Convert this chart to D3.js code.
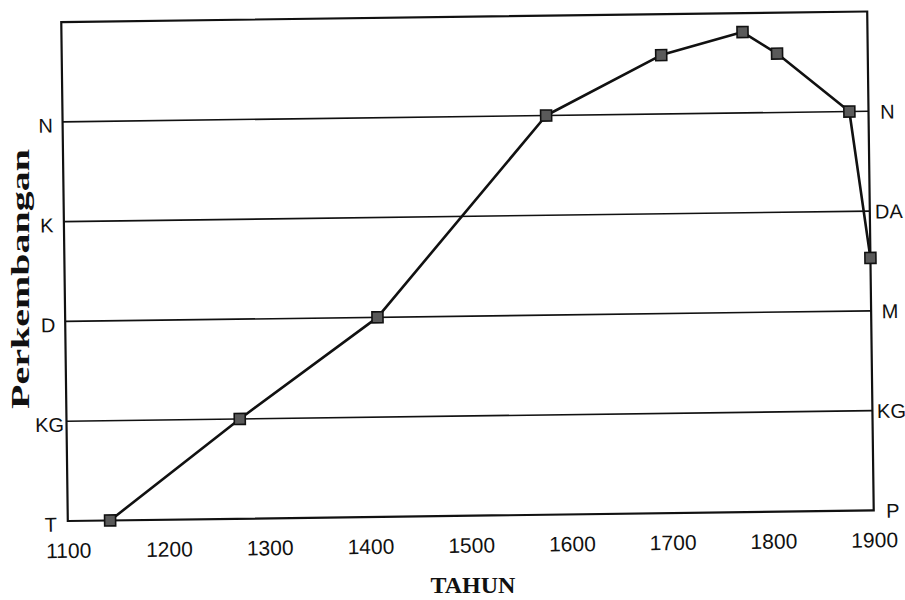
<!DOCTYPE html>
<html>
<head>
<meta charset="utf-8">
<script src="https://cdn.jsdelivr.net/npm/d3@7"></script>
<style>
  body { margin: 0; background: #fff; }
  svg { display: block; }
</style>
</head>
<body>
<svg id="chart" width="905" height="600"></svg>
<script>
// data
const years = [1142, 1272, 1410, 1580, 1695, 1776, 1810, 1881, 1900];
const levels = [0, 1, 2, 4, 4.59, 4.81, 4.59, 4, 2.53];
const xTicks = [1100, 1200, 1300, 1400, 1500, 1600, 1700, 1800, 1900];
const leftLabels = ["T", "KG", "D", "K", "N"];
const rightLabels = ["P", "KG", "M", "DA", "N"];

const svg = d3.select("#chart");
const plotL = 64.5, plotR = 870.5, plotT = 16.75, plotB = 515.75;

const x = d3.scaleLinear().domain([1100, 1900]).range([plotL, plotR]);
const y = d3.scaleLinear().domain([0, 5]).range([plotB, plotT]);

// the scan is a little tilted, so the whole plot is turned slightly
const g = svg.append("g")
  .attr("transform", `rotate(-0.75, ${(plotL + plotR) / 2}, ${(plotT + plotB) / 2})`);

// horizontal level lines
g.selectAll("line.grid")
  .data([1, 2, 3, 4])
  .join("line")
  .attr("class", "grid")
  .attr("x1", plotL)
  .attr("x2", plotR)
  .attr("y1", d => y(d))
  .attr("y2", d => y(d))
  .attr("stroke", "#111")
  .attr("stroke-width", 1.6);

// frame
g.append("rect")
  .attr("x", plotL)
  .attr("y", plotT)
  .attr("width", plotR - plotL)
  .attr("height", plotB - plotT)
  .attr("fill", "none")
  .attr("stroke", "#111")
  .attr("stroke-width", 2.2);

const font = "'Liberation Sans', Arial, sans-serif";

// left labels
const la = g.append("g")
  .attr("transform", `translate(${plotL},0)`)
  .call(d3.axisLeft(y).tickValues([0, 1, 2, 3, 4]).tickFormat(i => leftLabels[i]).tickSize(0));
la.select(".domain").remove();
la.selectAll("text")
  .attr("x", -17)
  .attr("dy", "0.5em")
  .attr("text-anchor", "middle")
  .attr("font-family", font)
  .attr("font-size", 20)
  .attr("fill", "#111");

// right labels
const ra = g.append("g")
  .attr("transform", `translate(${plotR},0)`)
  .call(d3.axisRight(y).tickValues([0, 1, 2, 3, 4]).tickFormat(i => rightLabels[i]).tickSize(0));
ra.select(".domain").remove();
ra.selectAll("text")
  .attr("x", 19)
  .attr("dy", "0.35em")
  .attr("text-anchor", "middle")
  .attr("font-family", font)
  .attr("font-size", 20)
  .attr("fill", "#111");

// year labels
const xa = g.append("g")
  .attr("transform", `translate(0,${plotB})`)
  .call(d3.axisBottom(x).tickValues(xTicks).tickFormat(d3.format("d")).tickSize(0).tickPadding(22));
xa.select(".domain").remove();
xa.selectAll("text")
  .attr("font-family", font)
  .attr("font-size", 21)
  .attr("fill", "#111");

// data line
const pts = years.map((yr, i) => [x(yr), y(levels[i])]);
g.append("path")
  .attr("d", d3.line()(pts))
  .attr("fill", "none")
  .attr("stroke", "#111")
  .attr("stroke-width", 2.6)
  .attr("stroke-linejoin", "round");

// square markers
g.selectAll("rect.pt")
  .data(pts)
  .join("rect")
  .attr("class", "pt")
  .attr("x", d => d[0] - 5.5)
  .attr("y", d => d[1] - 5.5)
  .attr("width", 11)
  .attr("height", 11)
  .attr("fill", "#5a5a5a")
  .attr("stroke", "#111")
  .attr("stroke-width", 1.6);

// axis titles
svg.append("text")
  .attr("transform", "translate(29,279) rotate(-90)")
  .attr("text-anchor", "middle")
  .attr("font-family", "'Liberation Serif', 'Times New Roman', serif")
  .attr("font-weight", "bold")
  .attr("font-size", 26)
  .attr("textLength", 260)
  .attr("lengthAdjust", "spacingAndGlyphs")
  .attr("fill", "#111")
  .text("Perkembangan");

svg.append("text")
  .attr("x", 473)
  .attr("y", 593)
  .attr("text-anchor", "middle")
  .attr("font-family", "'Liberation Serif', 'Times New Roman', serif")
  .attr("font-weight", "bold")
  .attr("font-size", 24)
  .attr("fill", "#111")
  .text("TAHUN");
</script>
</body>
</html>
